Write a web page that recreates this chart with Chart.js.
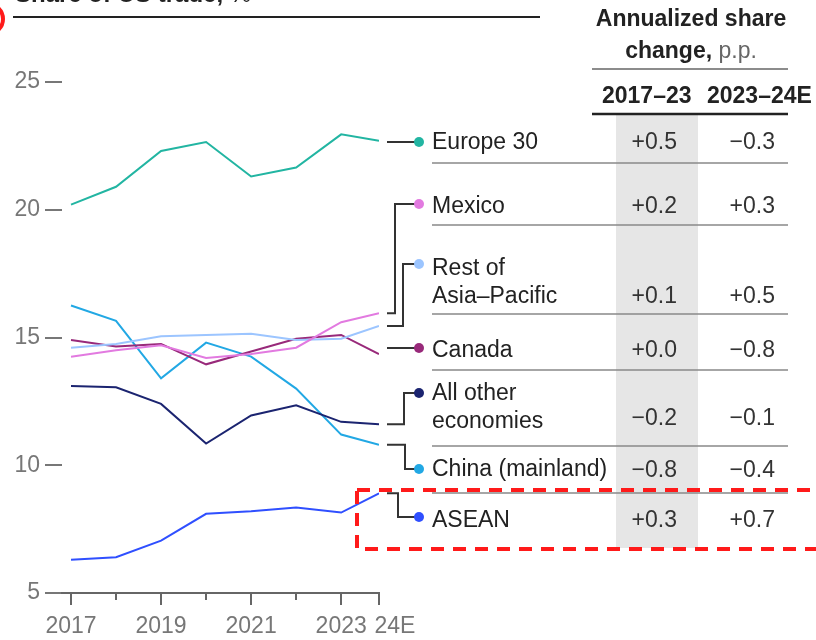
<!DOCTYPE html>
<html>
<head>
<meta charset="utf-8">
<script src="https://cdn.jsdelivr.net/npm/chart.js@4"></script>
<style>
body { margin: 0; background: #fff; }
#wrap { position: relative; width: 816px; height: 640px; overflow: hidden; font-family: 'Liberation Sans', Arial, sans-serif; color: #222; }
#c { position: absolute; left: 0; top: 0; }
.t { position: absolute; font-size: 23px; line-height: 28px; white-space: pre; }
</style>
</head>
<body>
<div id="wrap"><canvas id="c" width="816" height="640"></canvas></div>
<script>
// Share of US trade, %
const xYears = [2017, 2018, 2019, 2020, 2021, 2022, 2023, 2023.84]; // 24E sits a bit closer
const xTickLabels = ['2017', '', '2019', '', '2021', '', '2023', '24E'];

const europe30 = [20.2, 20.9, 22.3, 22.65, 21.3, 21.65, 22.95, 22.7];
const mexico = [14.25, 14.5, 14.7, 14.2, 14.35, 14.6, 15.6, 15.95];
const restAsiaPacific = [14.6, 14.75, 15.05, 15.1, 15.15, 14.9, 14.95, 15.45];
const canada = [14.9, 14.65, 14.75, 13.95, 14.45, 14.95, 15.1, 14.35];
const allOther = [13.1, 13.05, 12.4, 10.85, 11.95, 12.35, 11.7, 11.6];
const china = [16.25, 15.65, 13.4, 14.8, 14.25, 13.0, 11.2, 10.8];
const asean = [6.3, 6.4, 7.05, 8.1, 8.2, 8.35, 8.15, 8.9];

const seriesNames = ['Europe 30', 'Mexico', 'Rest of\nAsia–Pacific', 'Canada', 'All other\neconomies', 'China (mainland)', 'ASEAN'];
const change1723 = [0.5, 0.2, 0.1, 0.0, -0.2, -0.8, 0.3];
const change2324 = [-0.3, 0.3, 0.5, -0.8, -0.1, -0.4, 0.7];

const seriesData = [europe30, mexico, restAsiaPacific, canada, allOther, china, asean];
const colors = ['#22b5a2', '#e27ae0', '#9cc5ff', '#98297a', '#1b2470', '#22a8e4', '#2f4fff'];

// layout of the side table
const labelY = [141, 205, 267, 349, 392, 468, 519];
const valueY = [141, 205, 295, 349, 417, 469, 519];
const dotY = [142, 204, 264, 348, 393, 469, 517];
const elbowX = [null, 395, 403, null, 404, 405, 398];
const rowLines = [163, 225, 314, 370, 446, 493];

function fmt(v) {
    return (v < 0 ? '−' : '+') + Math.abs(v).toFixed(1);
}

const wrap = document.getElementById('wrap');
function addText(txt, css) {
    const d = document.createElement('div');
    d.className = 't';
    d.textContent = txt;
    Object.assign(d.style, css);
    wrap.appendChild(d);
    return d;
}

// title (cut off at the top, as in the source)
const title = addText('', { left: '15px', top: '-20px', fontSize: '24px', fontWeight: 'bold' });
title.innerHTML = 'Share of US trade, <span style="font-weight:normal">%</span>';

addText('Annualized share', { left: '592px', width: '198px', textAlign: 'center', top: '4px', fontWeight: 'bold' });
const sub = addText('', { left: '592px', width: '198px', textAlign: 'center', top: '36px', fontWeight: 'bold' });
sub.innerHTML = 'change, <span style="font-weight:normal;color:#666">p.p.</span>';
addText('2017–23', { left: '602px', top: '81px', fontWeight: 'bold' });
addText('2023–24E', { left: '707px', top: '81px', fontWeight: 'bold' });

seriesNames.forEach((name, i) => {
    addText(name, { left: '432px', top: (labelY[i] - 14) + 'px' });
    addText(fmt(change1723[i]), { left: '590px', width: '87px', textAlign: 'right', top: (valueY[i] - 14) + 'px', color: '#333' });
    addText(fmt(change2324[i]), { left: '690px', width: '85px', textAlign: 'right', top: (valueY[i] - 14) + 'px', color: '#333' });
});

const decor = {
    id: 'decor',
    beforeDraw(chart) {
        const ctx = chart.ctx;
        ctx.save();
        ctx.fillStyle = '#e6e6e6';
        ctx.fillRect(616, 115, 82, 433);
        ctx.restore();
    },
    afterDraw(chart) {
        const { ctx, chartArea, scales: { x, y } } = chart;
        ctx.save();
        // x tick marks, long where labelled
        ctx.strokeStyle = '#666';
        ctx.lineWidth = 2;
        xYears.forEach((v, i) => {
            const px = Math.round(x.getPixelForValue(v));
            const len = xTickLabels[i] ? 12 : 7;
            ctx.beginPath();
            ctx.moveTo(px, chartArea.bottom);
            ctx.lineTo(px, chartArea.bottom + len);
            ctx.stroke();
        });

        // connectors from line ends to labels
        ctx.strokeStyle = '#333';
        ctx.lineWidth = 2;
        const x0 = x.getPixelForValue(xYears[xYears.length - 1]) + 8;
        seriesData.forEach((arr, i) => {
            const yEnd = y.getPixelForValue(arr[arr.length - 1]);
            ctx.beginPath();
            if (elbowX[i] === null) {
                ctx.moveTo(x0, dotY[i]);
                ctx.lineTo(418, dotY[i]);
            } else {
                ctx.moveTo(x0, yEnd);
                ctx.lineTo(elbowX[i], yEnd);
                ctx.lineTo(elbowX[i], dotY[i]);
                ctx.lineTo(418, dotY[i]);
            }
            ctx.stroke();
            ctx.fillStyle = colors[i];
            ctx.beginPath();
            ctx.arc(419, dotY[i], 5, 0, Math.PI * 2);
            ctx.fill();
        });

        // title underline and table rules
        ctx.strokeStyle = '#222';
        ctx.lineWidth = 2;
        ctx.beginPath(); ctx.moveTo(13, 17); ctx.lineTo(540, 17); ctx.stroke();
        ctx.strokeStyle = '#666';
        ctx.lineWidth = 1.5;
        ctx.beginPath(); ctx.moveTo(592, 69); ctx.lineTo(788, 69); ctx.stroke();
        ctx.strokeStyle = '#222';
        ctx.lineWidth = 2.5;
        ctx.beginPath(); ctx.moveTo(592, 114); ctx.lineTo(788, 114); ctx.stroke();
        ctx.strokeStyle = '#888';
        ctx.lineWidth = 1.5;
        rowLines.forEach(ly => {
            ctx.beginPath(); ctx.moveTo(432, ly); ctx.lineTo(788, ly); ctx.stroke();
        });

        // red highlight box and cut-off circle
        ctx.strokeStyle = '#ff1a1a';
        ctx.lineWidth = 4;
        ctx.setLineDash([13, 9]);
        ctx.strokeRect(357, 490, 520, 59);
        ctx.setLineDash([]);
        ctx.beginPath();
        ctx.arc(-12, 19, 15, 0, Math.PI * 2);
        ctx.stroke();
        ctx.restore();
    }
};

Chart.defaults.font.family = "'Liberation Sans', Arial, sans-serif";

new Chart(document.getElementById('c'), {
    type: 'line',
    data: {
        datasets: seriesData.map((arr, i) => ({
            label: seriesNames[i].replace('\n', ' '),
            data: arr.map((v, j) => ({ x: xYears[j], y: v })),
            borderColor: colors[i],
            borderWidth: 2,
            pointRadius: 0,
            tension: 0,
            fill: false
        }))
    },
    options: {
        responsive: false,
        animation: false,
        devicePixelRatio: 1,
        layout: { padding: { left: 0, top: 82, right: 437, bottom: 0 } },
        plugins: { legend: { display: false }, tooltip: { enabled: false } },
        scales: {
            x: {
                type: 'linear',
                min: 2016.8,
                max: 2023.84,
                afterBuildTicks: s => { s.ticks = xYears.map(v => ({ value: v })); },
                afterFit: s => { s.height = 47; },
                grid: { display: true, drawOnChartArea: false, drawTicks: false },
                border: { display: true, color: '#666', width: 2 },
                ticks: {
                    autoSkip: false,
                    maxRotation: 0,
                    padding: 20,
                    color: '#777',
                    font: { size: 23 },
                    // last label nudged right so it clears "2023"
                    callback: (v, i) => (i === xTickLabels.length - 1 ? '     ' : '') + xTickLabels[i]
                }
            },
            y: {
                min: 5,
                max: 25,
                afterFit: s => { s.width = 62; },
                grid: { display: true, drawOnChartArea: false, drawTicks: true, tickLength: 17, color: '#777', lineWidth: 2 },
                border: { display: false },
                ticks: { stepSize: 5, padding: 5, color: '#777', font: { size: 23 } }
            }
        }
    },
    plugins: [decor]
});
</script>
</body>
</html>
